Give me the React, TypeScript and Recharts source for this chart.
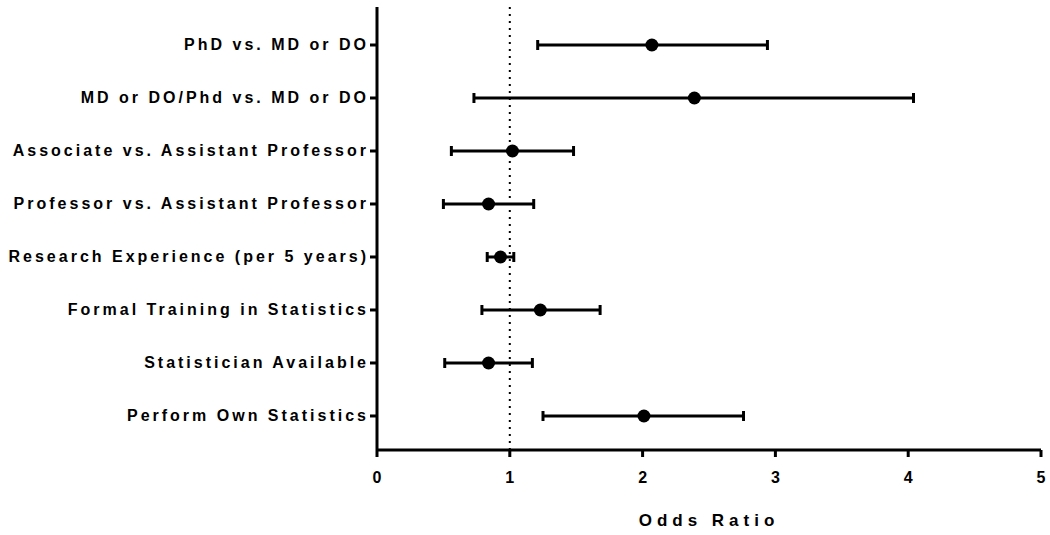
import { ScatterChart, Scatter, XAxis, YAxis, ErrorBar, ReferenceLine, Label } from 'recharts';

// forest plot: odds ratio with 95% CI, top row first
const labels = [
  'PhD vs. MD or DO',
  'MD or DO/Phd vs. MD or DO',
  'Associate vs. Assistant Professor',
  'Professor vs. Assistant Professor',
  'Research Experience (per 5 years)',
  'Formal Training in Statistics',
  'Statistician Available',
  'Perform Own Statistics',
];
const oddsRatio = [2.07, 2.39, 1.02, 0.84, 0.93, 1.23, 0.84, 2.01];
const lowerCI = [1.21, 0.73, 0.56, 0.5, 0.83, 0.79, 0.51, 1.25];
const upperCI = [2.94, 4.04, 1.48, 1.18, 1.03, 1.68, 1.17, 2.76];
const xTicks = [0, 1, 2, 3, 4, 5];

const data = labels.map((name, i) => ({
  name,
  row: i,
  or: oddsRatio[i],
  err: [oddsRatio[i] - lowerCI[i], upperCI[i] - oddsRatio[i]],
}));

const FONT = '"Liberation Sans", Arial, sans-serif';

function YTick(props: any) {
  const { x, y, payload } = props;
  return (
    <text x={x + 1} y={y} textAnchor="end" dominantBaseline="central" fontFamily={FONT}
      fontWeight="bold" fontSize={16} letterSpacing={3} fill="#000">
      {labels[payload.value]}
    </text>
  );
}

function XTick(props: any) {
  const { x, y, payload } = props;
  return (
    <text x={x} y={y + 24} textAnchor="middle" fontFamily={FONT}
      fontWeight="bold" fontSize={16} fill="#000">
      {payload.value}
    </text>
  );
}

function Dot(props: any) {
  const { cx, cy } = props;
  return <circle cx={cx} cy={cy} r={6.5} fill="#000" />;
}

export default function App() {
  return (
    <div style={{ position: 'absolute', left: 0, top: 0, background: '#fff' }}>
      <ScatterChart width={1050} height={535} margin={{ top: 7, right: 9, bottom: 0, left: 0 }}>
        <XAxis
          type="number"
          dataKey="or"
          domain={[0, 5]}
          ticks={xTicks}
          allowDataOverflow
          height={85}
          tickSize={7}
          tick={<XTick />}
          axisLine={{ stroke: '#000', strokeWidth: 3 }}
          tickLine={{ stroke: '#000', strokeWidth: 3 }}
        >
          <Label
            value="Odds Ratio"
            position="insideBottom"
            offset={9}
            style={{ fontFamily: FONT, fontWeight: 'bold', fontSize: 17, letterSpacing: 5, fill: '#000' }}
          />
        </XAxis>
        <YAxis
          type="number"
          dataKey="row"
          domain={[-0.717, 7.642]}
          reversed
          allowDataOverflow
          ticks={[0, 1, 2, 3, 4, 5, 6, 7]}
          width={377}
          tickSize={7}
          tick={<YTick />}
          axisLine={{ stroke: '#000', strokeWidth: 3 }}
          tickLine={{ stroke: '#000', strokeWidth: 3 }}
        />
        <ReferenceLine x={1} stroke="#000" strokeWidth={2} strokeDasharray="2 5" />
        <Scatter data={data} shape={<Dot />} isAnimationActive={false}>
          <ErrorBar dataKey="err" direction="x" width={5} stroke="#000" strokeWidth={3} />
        </Scatter>
      </ScatterChart>
    </div>
  );
}
